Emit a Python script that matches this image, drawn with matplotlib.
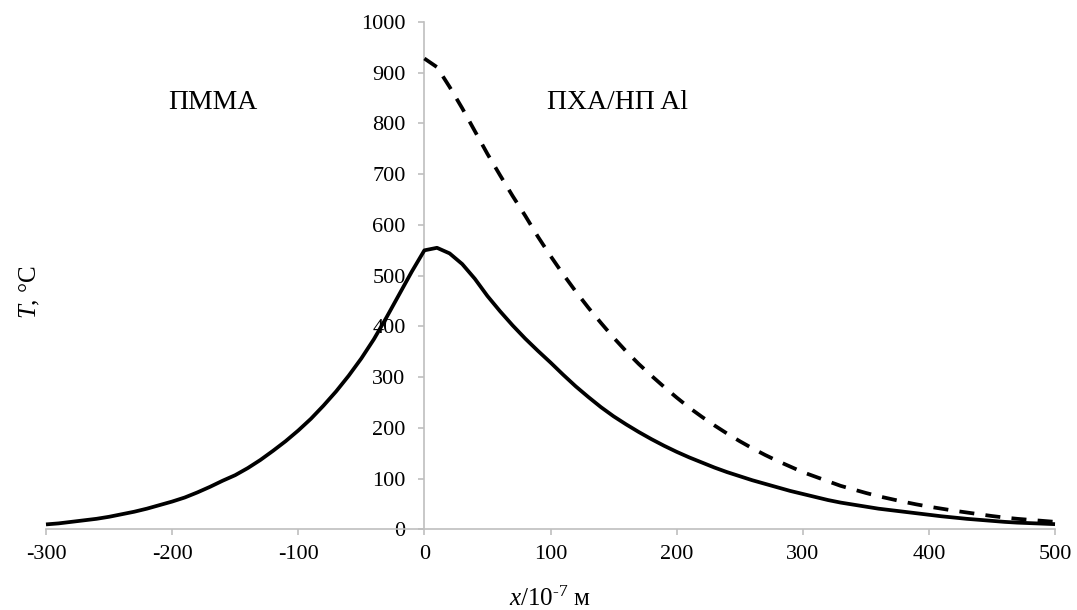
import matplotlib
matplotlib.use("Agg")
import matplotlib.pyplot as plt
import numpy as np

plt.rcParams["font.family"] = ["Liberation Serif", "DejaVu Serif"]
plt.rcParams["mathtext.fontset"] = "custom"
plt.rcParams["mathtext.rm"] = "Liberation Serif"
plt.rcParams["mathtext.it"] = "Liberation Serif:italic"
plt.rcParams["axes.unicode_minus"] = False

# Temperature profile across the PMMA | PCA/Al-NP interface (x in 1e-7 m, T in °C)
x_solid = list(range(-300, 501, 10))
t_solid = [
    # PMMA side, -300 .. -10
    10, 12, 15, 18, 21, 25, 30, 35, 41, 48,
    55, 63, 73, 84, 96, 107, 121, 137, 155, 174,
    195, 218, 244, 272, 303, 337, 375, 418, 463, 508,
    # interface and PCA/Al-NP side, 0 .. 500
    550, 555, 544, 523, 494, 460, 430, 402, 376, 352,
    329, 305, 282, 261, 241, 223, 207, 192, 178, 165,
    153, 142, 132, 122, 113, 105, 97, 90, 83, 76,
    70, 64, 58, 53, 49, 45, 41, 38, 35, 32,
    29, 26, 23.5, 21, 19, 17, 15, 13.5, 12.5, 11.5,
    10.5,
]

x_dashed = list(range(0, 501, 10))
t_dashed = [
    928, 911, 872, 830, 785, 740, 698, 657, 618, 577,
    539, 503, 469, 437, 407, 378, 351, 326, 303, 281,
    260, 240, 222, 205, 189, 174, 160, 147, 135, 124,
    113, 104, 95, 86, 79, 72, 65.5, 60, 54.5, 49.5,
    45, 41, 37, 33.5, 30, 26.5, 23.5, 21, 19, 17,
    15,
]

x_ticks = [-300, -200, -100, 0, 100, 200, 300, 400, 500]
y_ticks = [0, 100, 200, 300, 400, 500, 600, 700, 800, 900, 1000]

axis_grey = "#BFBFBF"

fig = plt.figure(figsize=(10.77, 6.10), dpi=100)
ax = fig.add_axes([0.0427, 0.132, 0.9369, 0.832])

ax.plot(x_solid, t_solid, color="black", lw=2.7, solid_joinstyle="round",
        solid_capstyle="butt", clip_on=False, zorder=3)
ax.plot(x_dashed, t_dashed, color="black", lw=2.7, dashes=(4, 3),
        dash_capstyle="butt", clip_on=False, zorder=3)

ax.set_xlim(-300, 500)
ax.set_ylim(0, 1000)
ax.set_xticks(x_ticks)
ax.set_yticks(y_ticks)

ax.spines["left"].set_position(("data", 0))
for side in ("top", "right"):
    ax.spines[side].set_visible(False)
for side in ("left", "bottom"):
    ax.spines[side].set_color(axis_grey)
    ax.spines[side].set_linewidth(1.2)

ax.tick_params(axis="both", direction="out", length=4.5, width=1.2,
               color=axis_grey, labelcolor="black", labelsize=16)
ax.tick_params(axis="y", pad=9)
ax.tick_params(axis="x", pad=7)

ax.text(-168, 842, "ПММА", fontsize=20, ha="center", va="center")
ax.text(153, 842, "ПХА/НП Al", fontsize=20, ha="center", va="center")

fig.text(30 / 1077, 1 - 292 / 610, r"$\mathit{T}$, °C", rotation=90,
         fontsize=18, ha="center", va="center")
fig.text(550 / 1077, 4 / 610, r"$\mathit{x}$/10$^{\text{-}7}$ м", fontsize=18,
         ha="center", va="baseline")

fig.savefig("out.png", dpi=100)
